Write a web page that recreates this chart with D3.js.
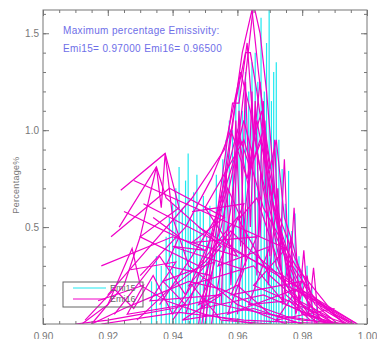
<!DOCTYPE html>
<html>
<head>
<meta charset="utf-8">
<script src="https://cdn.jsdelivr.net/npm/d3@7"></script>
<style>
  body { margin: 0; background: #fff; }
  svg { font-family: "Liberation Sans", Arial, sans-serif; }
</style>
</head>
<body>
<svg width="377" height="339"></svg>
<script>
// emissivity axis + percentage axis
const emiTicks = [0.90, 0.92, 0.94, 0.96, 0.98, 1.00];
const pctTicks = [0.5, 1.0, 1.5];

// Emi15 (cyan) spikes: emissivity and percentage
const emi15Emis = [0.9335, 0.9350, 0.9365, 0.9380, 0.9390, 0.9400, 0.9410, 0.9420, 0.9430, 0.9440,
  0.9448, 0.9455, 0.9465, 0.9475, 0.9485, 0.9495, 0.9505, 0.9515, 0.9525, 0.9535,
  0.9545, 0.9555, 0.9565, 0.9575, 0.9585, 0.9595, 0.9605, 0.9615, 0.9625, 0.9635,
  0.9645, 0.9655, 0.9663, 0.9673, 0.9683, 0.9690, 0.9698, 0.9705, 0.9712, 0.9720,
  0.9728, 0.9738, 0.9748, 0.9758, 0.9768, 0.9778, 0.9790, 0.9800, 0.9815, 0.9830, 0.9845];
const emi15Pct = [0.22, 0.35, 0.30, 0.45, 0.55, 0.62, 0.70, 0.81, 0.60, 0.74,
  0.88, 0.55, 0.68, 0.77, 0.58, 0.66, 0.45, 0.61, 0.40, 0.77,
  0.59, 0.85, 0.95, 1.05, 1.00, 1.15, 1.25, 1.10, 1.30, 1.20,
  1.35, 1.40, 1.25, 1.58, 1.20, 1.45, 1.66, 1.15, 1.30, 1.35,
  0.95, 0.80, 0.62, 0.79, 0.48, 0.57, 0.35, 0.28, 0.30, 0.20, 0.12];

// Emi16 (magenta) runs, each a list of [emissivity, percentage]
const emi16Runs = [
  [[0.952, 0], [0.958, 0.60], [0.962, 1.20], [0.965, 1.65], [0.967, 1.50], [0.969, 1.20], [0.972, 0.60], [0.976, 0.20], [0.982, 0.05], [0.990, 0]],
  [[0.950, 0], [0.956, 0.70], [0.9595, 1.15], [0.9625, 1.40], [0.9640, 1.40], [0.966, 1.20], [0.9685, 0.90], [0.971, 0.50], [0.975, 0.15], [0.985, 0]],
  [[0.948, 0], [0.954, 0.60], [0.9585, 1.14], [0.9605, 1.14], [0.963, 1.45], [0.965, 1.00], [0.968, 0.70], [0.972, 0.30], [0.980, 0.05], [0.992, 0]],
  [[0.949, 0], [0.955, 0.65], [0.959, 1.10], [0.9615, 1.40], [0.9645, 1.62], [0.9665, 1.30], [0.969, 0.95], [0.9725, 0.55], [0.978, 0.12], [0.988, 0]],
  [[0.915, 0], [0.925, 0.20], [0.930, 0.45], [0.935, 0.81], [0.9365, 0.60], [0.9377, 0.88], [0.940, 0.55], [0.945, 0.30], [0.960, 0.10], [0.975, 0]],
  [[0.912, 0], [0.920, 0.10], [0.9275, 0.39], [0.930, 0.20], [0.938, 0.12], [0.950, 0.05], [0.965, 0]],
  [[0.948, 0.50], [0.997, 0]],
  [[0.924, 0.69], [0.9377, 0.88], [0.9420, 0.60], [0.9300, 0.45], [0.9480, 0.30], [0.9600, 0.55], [0.9700, 0.25], [0.9800, 0.10], [0.9900, 0]],
  [[0.928, 0.74], [0.975, 0.39], [0.965, 0.20], [0.985, 0.05], [0.994, 0]],
  [[0.9235, 0.50], [0.935, 0.81], [0.9380, 0.65], [0.9550, 0.40], [0.9450, 0.20], [0.9650, 0.30], [0.9750, 0.10], [0.9880, 0]],
  [[0.918, 0.30], [0.940, 0.45], [0.960, 0.35], [0.950, 0.60], [0.962, 0.95], [0.968, 0.60], [0.978, 0.30], [0.990, 0.05], [0.996, 0]],
  [[0.920, 0.15], [0.933, 0.40], [0.946, 0.65], [0.956, 0.90], [0.961, 1.30], [0.964, 1.10], [0.967, 0.80], [0.972, 0.45], [0.980, 0.15], [0.995, 0]],
  [[0.930, 0.25], [0.944, 0.50], [0.952, 0.75], [0.958, 1.00], [0.963, 0.75], [0.966, 1.05], [0.970, 0.70], [0.974, 0.40], [0.982, 0.10], [0.990, 0]],
  [[0.936, 0.10], [0.946, 0.35], [0.9535, 0.55], [0.959, 0.85], [0.962, 1.05], [0.965, 0.85], [0.968, 1.00], [0.971, 0.60], [0.976, 0.25], [0.986, 0.02]],
  [[0.934, 0.55], [0.942, 0.45], [0.938, 0.30], [0.952, 0.25], [0.948, 0.10], [0.960, 0.20], [0.970, 0.05], [0.980, 0]],
  [[0.913, 0.02], [0.922, 0.18], [0.928, 0.08], [0.934, 0.25], [0.940, 0.05], [0.946, 0.20], [0.955, 0.02], [0.970, 0]],
  [[0.927, 0.28], [0.941, 0.32], [0.933, 0.12], [0.955, 0.15], [0.943, 0.02], [0.965, 0.08], [0.980, 0]],
  [[0.958, 0.30], [0.9595, 1.05], [0.961, 0.40], [0.9625, 1.25], [0.964, 0.50], [0.9655, 1.15], [0.967, 0.45], [0.9685, 1.05], [0.970, 0.35], [0.9715, 0.95],
   [0.973, 0.30], [0.9745, 0.85], [0.976, 0.20], [0.9775, 0.60], [0.979, 0.10], [0.9805, 0.38], [0.982, 0.05], [0.9835, 0.29], [0.985, 0.02], [0.990, 0]],
  [[0.955, 0.10], [0.9565, 0.80], [0.958, 0.20], [0.9605, 1.10], [0.9625, 0.30], [0.9645, 1.20], [0.966, 0.25], [0.968, 1.15], [0.9695, 0.20], [0.9725, 0.70],
   [0.974, 0.10], [0.9765, 0.45], [0.978, 0.05], [0.9815, 0.25], [0.984, 0]],
  [[0.931, 0.62], [0.974, 0.25], [0.992, 0.02]],
  [[0.910, 0], [0.920, 0.02], [0.930, 0.05], [0.940, 0.08], [0.950, 0.12], [0.960, 0.08], [0.970, 0.05], [0.980, 0.02], [0.995, 0]],
  [[0.915, 0], [0.925, 0.08], [0.935, 0.15], [0.945, 0.22], [0.955, 0.18], [0.965, 0.10], [0.975, 0.04], [0.990, 0]],
  [[0.918, 0], [0.930, 0.03], [0.942, 0.06], [0.952, 0.04], [0.962, 0.02], [0.975, 0.01], [0.992, 0]],
  [[0.922, 0.05], [0.936, 0.35], [0.944, 0.15], [0.952, 0.45], [0.957, 0.70], [0.961, 0.55], [0.966, 0.65], [0.975, 0.20], [0.984, 0.12], [0.996, 0]],
  [[0.940, 0.02], [0.950, 0.25], [0.955, 0.50], [0.9605, 0.95], [0.9635, 0.70], [0.967, 1.25], [0.969, 0.85], [0.973, 0.55], [0.9775, 0.35], [0.983, 0.15], [0.993, 0]],
  [[0.925, 0.58], [0.950, 0.38], [0.940, 0.40], [0.962, 0.28], [0.957, 0.05], [0.978, 0.18], [0.997, 0]],
  [[0.921, 0.45], [0.939, 0.70], [0.956, 0.55], [0.946, 0.42], [0.966, 0.45], [0.958, 0.15], [0.980, 0.22], [0.972, 0.02], [0.990, 0.08]],
  [[0.917, 0.12], [0.931, 0.20], [0.926, 0.05], [0.944, 0.10], [0.937, 0.22], [0.953, 0.32], [0.949, 0.08], [0.968, 0.15], [0.985, 0.03]],
  [[0.944, 0.05], [0.951, 0.40], [0.957, 0.80], [0.960, 1.00], [0.964, 0.80], [0.9675, 0.95], [0.9705, 0.65], [0.9735, 0.48], [0.977, 0.30], [0.986, 0.08], [0.994, 0]],
  [[0.929, 0.02], [0.939, 0.18], [0.950, 0.32], [0.958, 0.48], [0.964, 0.38], [0.971, 0.28], [0.979, 0.12], [0.989, 0.03]],
  [[0.946, 0.58], [0.962, 0.62], [0.954, 0.30], [0.970, 0.40], [0.9635, 0.10], [0.976, 0.12], [0.9825, 0.02]],
  [[0.960, 0.05], [0.9625, 0.60], [0.965, 0.95], [0.9675, 1.10], [0.970, 0.80], [0.972, 0.95], [0.9745, 0.55], [0.977, 0.42], [0.980, 0.22], [0.984, 0.10], [0.991, 0]]
];

const svg = d3.select("svg");
const margin = { top: 10, right: 10, bottom: 15, left: 43 };
const width = 377 - margin.left - margin.right;
const height = 339 - margin.top - margin.bottom;

const x = d3.scaleLinear().domain([0.90, 1.00]).range([0, width]);
const y = d3.scaleLinear().domain([0, 1.62]).range([height, 0]);

const g = svg.append("g").attr("transform", `translate(${margin.left},${margin.top})`);

g.append("clipPath").attr("id", "clip")
  .append("rect").attr("width", width).attr("height", height);

const plot = g.append("g").attr("clip-path", "url(#clip)");

// cyan spikes
plot.selectAll(".emi15")
  .data(emi15Emis)
  .enter().append("line")
  .attr("class", "emi15")
  .attr("x1", d => x(d)).attr("x2", d => x(d))
  .attr("y1", y(0))
  .attr("y2", (d, i) => y(emi15Pct[i]))
  .attr("stroke", "#1ee8f0")
  .attr("stroke-width", 1.2);

// magenta runs
const line = d3.line().x(d => x(d[0])).y(d => y(d[1]));
plot.selectAll(".emi16")
  .data(emi16Runs)
  .enter().append("path")
  .attr("class", "emi16")
  .attr("d", line)
  .attr("fill", "none")
  .attr("stroke", "#f000c8")
  .attr("stroke-width", 1.2);

// axes (ticks inward on all four sides)
const minorX = d3.range(0.90, 1.0001, 0.005);
const minorY = d3.range(0, 1.62, 0.1);
const axisColor = "#777";

function styleAxis(sel) {
  sel.select(".domain").remove();
  sel.selectAll("line").attr("stroke", axisColor);
  sel.selectAll("text").attr("fill", "#777").style("font-size", "10px");
}

g.append("g").attr("transform", `translate(0,${height})`)
  .call(d3.axisBottom(x).tickValues(minorX).tickSize(-3).tickFormat("")).call(styleAxis);
g.append("g").attr("transform", `translate(0,${height})`)
  .call(d3.axisBottom(x).tickValues(emiTicks).tickSize(-6).tickPadding(9).tickFormat(d3.format(".2f"))).call(styleAxis);
g.append("g")
  .call(d3.axisTop(x).tickValues(minorX).tickSize(-3).tickFormat("")).call(styleAxis);
g.append("g")
  .call(d3.axisTop(x).tickValues(emiTicks).tickSize(-6).tickFormat("")).call(styleAxis);

g.append("g")
  .call(d3.axisLeft(y).tickValues(minorY).tickSize(-3).tickFormat("")).call(styleAxis);
g.append("g")
  .call(d3.axisLeft(y).tickValues(pctTicks).tickSize(-6).tickPadding(4).tickFormat(d3.format(".1f"))).call(styleAxis);
g.append("g").attr("transform", `translate(${width},0)`)
  .call(d3.axisRight(y).tickValues(minorY).tickSize(-3).tickFormat("")).call(styleAxis);
g.append("g").attr("transform", `translate(${width},0)`)
  .call(d3.axisRight(y).tickValues(pctTicks).tickSize(-6).tickFormat("")).call(styleAxis);

g.append("rect")
  .attr("width", width).attr("height", height)
  .attr("fill", "none").attr("stroke", axisColor);

// y label
svg.append("text")
  .attr("transform", "translate(19,185) rotate(-90)")
  .attr("text-anchor", "middle")
  .attr("fill", "#777")
  .style("font-size", "9px")
  .style("letter-spacing", "0.3px")
  .text("Percentage%");

// annotation
const note = svg.append("g").attr("fill", "#6e6ee8").style("font-size", "10px").style("letter-spacing", "0.35px");
note.append("text").attr("x", 63).attr("y", 34).text("Maximum percentage Emissivity:");
note.append("text").attr("x", 63).attr("y", 52).text("Emi15= 0.97000 Emi16= 0.96500");

// legend
const legend = svg.append("g");
legend.append("rect")
  .attr("x", 63).attr("y", 282).attr("width", 80).attr("height", 25)
  .attr("fill", "none").attr("stroke", "#666");
const legendItems = [["Emi15", "#1ee8f0"], ["Emi16", "#f000c8"]];
legendItems.forEach((item, i) => {
  legend.append("line")
    .attr("x1", 73).attr("x2", 106)
    .attr("y1", 288 + i * 11).attr("y2", 288 + i * 11)
    .attr("stroke", item[1]);
  legend.append("text")
    .attr("x", 110).attr("y", 291 + i * 11)
    .attr("fill", "#666")
    .style("font-size", "9px")
    .text(item[0]);
});
</script>
</body>
</html>
